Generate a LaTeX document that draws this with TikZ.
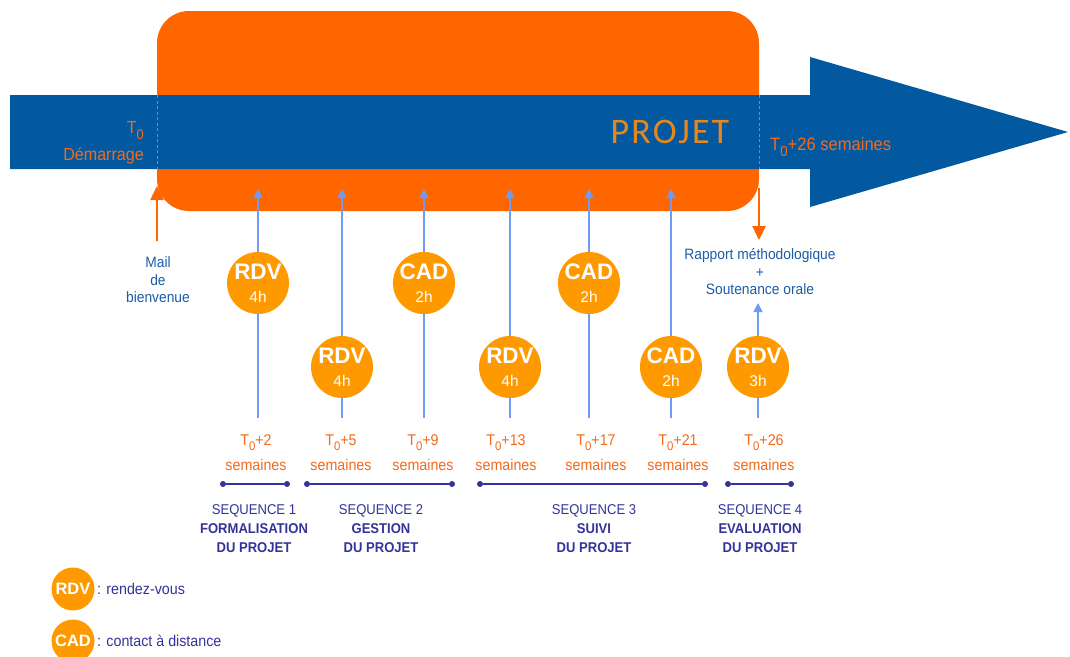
\documentclass[tikz,border=0pt]{standalone}
\usepackage{fontspec}
\setmainfont{Liberation Sans}[FakeStretch=0.92]
\newfontfamily\circfont{Liberation Sans}
\newfontfamily\projfont{Carlito}[LetterSpace=6]
\usetikzlibrary{arrows.meta}
\definecolor{barblue}{HTML}{03599F}
\definecolor{projorange}{HTML}{FF6600}
\definecolor{circorange}{HTML}{FF9900}
\definecolor{txtorange}{HTML}{F26A1B}
\definecolor{projtxt}{HTML}{E8861E}
\definecolor{indigo}{HTML}{333399}
\definecolor{txtblue}{HTML}{1C5DA8}
\definecolor{lineblue}{HTML}{6F9BF2}
\definecolor{dashcol}{HTML}{C8783A}
\newcommand{\Tzero}{T\raisebox{-0.6ex}{\scalebox{0.8}{0}}}
\newcommand{\myfs}[2]{\fontsize{#1}{#2}\selectfont}
\begin{document}
\begin{tikzpicture}[x=1pt,y=-1pt,
  circ/.style={circle, fill=circorange, minimum size=62pt, inner sep=0pt, text=white, align=center, font=\circfont\myfs{15.5}{23}},
  lcirc/.style={circle, fill=circorange, minimum size=43pt, inner sep=0pt, text=white, font=\circfont\myfs{16.5}{18}\bfseries},
  otext/.style={text=txtorange, inner sep=0pt},
  btext/.style={text=txtblue, inner sep=0pt, align=center, font=\myfs{15}{17.5}},
  seqtext/.style={text=indigo, inner sep=0pt, align=center, font=\myfs{14.2}{19}},
  itext/.style={text=indigo, inner sep=0pt, font=\myfs{15.5}{17}},
  dot/.style={circle, fill=indigo, minimum size=6pt, inner sep=0pt},
  seqline/.style={indigo, line width=1.6pt},
  vline/.style={lineblue, line width=1.5pt},
  varrow/.style={lineblue, line width=1.5pt, -{Triangle[length=9pt,width=9pt]}},
  oarrow/.style={projorange, line width=2.5pt, -{Triangle[length=14pt,width=13pt]}},
  dashline/.style={dashcol, line width=1pt, dash pattern=on 3pt off 2.5pt}
]
\useasboundingbox (0,0) rectangle (1070,656);
\fill[white] (0,0) rectangle (1070,656);
% project box and bar
\fill[projorange, rounded corners=32pt] (157,11) rectangle (759,211);
\fill[barblue] (10,95) -- (810,95) -- (810,57) -- (1068,132) -- (810,207) -- (810,169) -- (10,169) -- cycle;
\draw[dashline] (157,95) -- (157,169);
\draw[dashline] (759,95) -- (759,169);
\node[text=projtxt, inner sep=0pt, font=\projfont\myfs{36}{36}] (projet) at (670,132) {PROJET};
\node[otext, anchor=east, align=right, font=\myfs{17.5}{27}] (t0) at (144,143) {\Tzero\\Démarrage};
\node[otext, anchor=west, font=\myfs{18}{20}] (t26) at (770,147) {\Tzero+26 semaines};
% orange arrows
\node[btext] (mail) at (158,280) {Mail\\de\\bienvenue};
\coordinate (mailtail) at (157,241);
\coordinate (mailtip) at (157,186);
\draw[oarrow] (mailtail) -- (mailtip);
\node[btext] (rap) at (760,272) {Rapport méthodologique\\+\\Soutenance orale};
\coordinate (raptail) at (759,188);
\coordinate (raptip) at (759,240);
\draw[oarrow] (raptail) -- (raptip);
% circles and vertical lines
\foreach \n/\x/\y/\k/\h in {1/258/283/RDV/4h, 2/342/367/RDV/4h, 3/424/283/CAD/2h, 4/510/367/RDV/4h, 5/589/283/CAD/2h, 6/671/367/CAD/2h}{
  \node[circ] (c\n) at (\x,\y) {{\myfs{22.5}{23}\bfseries \k}\\\h};
  \coordinate (b\n) at (\x,418);
  \coordinate (t\n) at (\x,189);
  \draw[vline] (b\n) -- (c\n.south);
  \draw[varrow] (c\n.north) -- (t\n);
}
\node[circ] (c7) at (758,367) {{\myfs{22.5}{23}\bfseries RDV}\\3h};
\coordinate (b7) at (758,418);
\coordinate (t7) at (758,303);
\draw[vline] (b7) -- (c7.south);
\draw[varrow] (c7.north) -- (t7);
% week labels
\foreach \n/\x/\w in {1/256/2, 2/341/5, 3/423/9, 4/506/13, 5/596/17, 6/678/21, 7/764/26}{
  \node[otext, align=center, font=\myfs{15.5}{25}] (l\n) at (\x,453) {\Tzero+\w\\semaines};
}
% sequences
\node[dot] (s1a) at (223,484) {};
\node[dot] (s1b) at (287,484) {};
\node[dot] (s2a) at (307,484) {};
\node[dot] (s2b) at (452,484) {};
\node[dot] (s3a) at (480,484) {};
\node[dot] (s3b) at (705,484) {};
\node[dot] (s4a) at (728,484) {};
\node[dot] (s4b) at (791,484) {};
\draw[seqline] (s1a) -- (s1b);
\draw[seqline] (s2a) -- (s2b);
\draw[seqline] (s3a) -- (s3b);
\draw[seqline] (s4a) -- (s4b);
\node[seqtext] (q1) at (254,529) {SEQUENCE 1\\\textbf{FORMALISATION}\\\textbf{DU PROJET}};
\node[seqtext] (q2) at (381,529) {SEQUENCE 2\\\textbf{GESTION}\\\textbf{DU PROJET}};
\node[seqtext] (q3) at (594,529) {SEQUENCE 3\\\textbf{SUIVI}\\\textbf{DU PROJET}};
\node[seqtext] (q4) at (760,529) {SEQUENCE 4\\\textbf{EVALUATION}\\\textbf{DU PROJET}};
% legend
\node[lcirc] (lr) at (73,589) {RDV};
\node[itext, anchor=west] (lrt) at (97,589) {: rendez-vous};
\node[lcirc] (lc) at (73,641) {CAD};
\node[itext, anchor=west] (lct) at (97,641) {: contact à distance};
\end{tikzpicture}
\end{document}
